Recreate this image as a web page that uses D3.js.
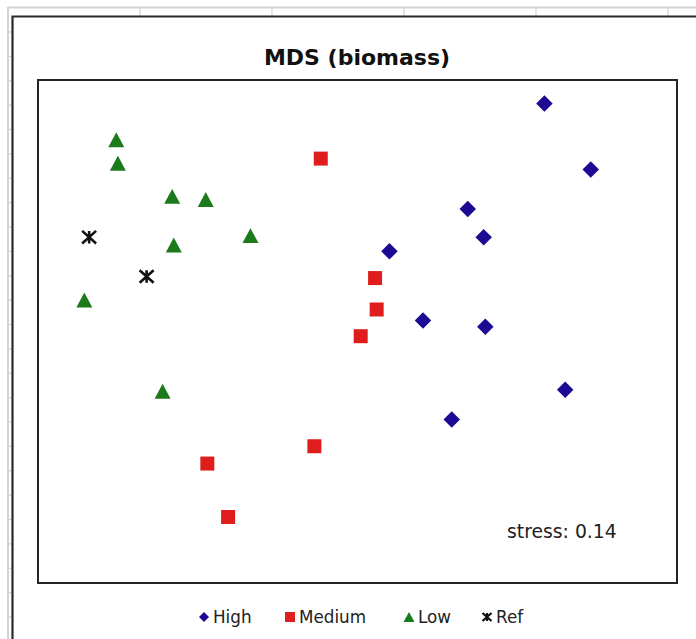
<!DOCTYPE html>
<html>
<head>
<meta charset="utf-8">
<script src="https://cdn.jsdelivr.net/npm/d3@7/dist/d3.min.js"></script>
<style>
  html, body { margin: 0; padding: 0; background: #ffffff; }
  svg { display: block; }
</style>
</head>
<body>
<script>
// MDS ordination coordinates (dimension 1, dimension 2) per group
const highPoints = [[1.17, 1.45], [1.46, 1.03], [0.69, 0.78], [0.79, 0.60], [0.20, 0.51],
                    [0.41, 0.07], [0.80, 0.03], [1.30, -0.37], [0.59, -0.56]];
const mediumPoints = [[-0.23, 1.10], [0.11, 0.34], [0.12, 0.14], [0.02, -0.03],
                      [-0.27, -0.73], [-0.94, -0.84], [-0.81, -1.18]];
const lowPoints = [[-1.51, 1.22], [-1.50, 1.07], [-1.16, 0.86], [-0.95, 0.84],
                   [-0.67, 0.61], [-1.15, 0.55], [-1.71, 0.20], [-1.22, -0.38]];
const refPoints = [[-1.68, 0.60], [-1.32, 0.35]];
const seriesNames = ["High", "Medium", "Low", "Ref"];
const stressValue = 0.14;
const chartTitle = "MDS (biomass)";

const W = 696, H = 639;
const plot = { left: 38, top: 80, right: 677, bottom: 583 };

const svg = d3.select("body").append("svg").attr("width", W).attr("height", H);

// --- worksheet backdrop: gridlines around the embedded chart ---
const grid = svg.append("g").attr("stroke", "#d3d3d3").attr("fill", "none");
grid.append("line").attr("x1", 8).attr("x2", W).attr("y1", 7.5).attr("y2", 7.5).attr("stroke-width", 2);
grid.append("line").attr("x1", 8).attr("x2", 8).attr("y1", 7).attr("y2", H).attr("stroke-width", 2);
d3.range(140, W, 132).forEach(cx => {
  grid.append("line").attr("x1", cx).attr("x2", cx).attr("y1", 8).attr("y2", 16).attr("stroke-width", 1.2);
});
d3.range(32, H, 24.375).forEach(ry => {
  grid.append("line").attr("x1", 8).attr("x2", 12).attr("y1", ry).attr("y2", ry).attr("stroke-width", 1.2);
});

// chart object frame (extends past the window on the right and bottom)
svg.append("path")
  .attr("d", `M12.5,${H + 2} V16.5 H${W + 2}`)
  .attr("fill", "none").attr("stroke", "#2a2a2a").attr("stroke-width", 2.2);

// title
svg.append("text")
  .attr("x", 357).attr("y", 65)
  .attr("text-anchor", "middle")
  .attr("font-family", "'DejaVu Sans', Verdana, sans-serif")
  .attr("font-weight", "bold")
  .attr("font-size", 22)
  .attr("fill", "#111")
  .text(chartTitle);

// plot area
svg.append("rect")
  .attr("x", plot.left).attr("y", plot.top)
  .attr("width", plot.right - plot.left).attr("height", plot.bottom - plot.top)
  .attr("fill", "#fff").attr("stroke", "#252525").attr("stroke-width", 2);

const x = d3.scaleLinear().domain([-2, 2]).range([plot.left, plot.right]);
const y = d3.scaleLinear().domain([-1.6, 1.6]).range([plot.bottom, plot.top]);

// marker shapes, sized by their box width (size = width^2)
const diamond = { draw(ctx, size) { const h = Math.sqrt(size) / 2;
  ctx.moveTo(0, -h); ctx.lineTo(h, 0); ctx.lineTo(0, h); ctx.lineTo(-h, 0); ctx.closePath(); } };
const square = { draw(ctx, size) { const w = Math.sqrt(size); ctx.rect(-w / 2, -w / 2, w, w); } };
const triangle = { draw(ctx, size) { const w = Math.sqrt(size), ht = w * 0.93;
  ctx.moveTo(0, -ht / 2); ctx.lineTo(w / 2, ht / 2); ctx.lineTo(-w / 2, ht / 2); ctx.closePath(); } };
const star = { draw(ctx, size) { const w = Math.sqrt(size), hw = w / 2, hh = w * 0.45;
  ctx.moveTo(0, -hh); ctx.lineTo(0, hh);
  ctx.moveTo(-hw, -hh); ctx.lineTo(hw, hh);
  ctx.moveTo(hw, -hh); ctx.lineTo(-hw, hh); } };

const series = [
  { name: seriesNames[0], data: highPoints, type: diamond, w: 16.5, lw: 10, color: "#1c0a94", filled: true },
  { name: seriesNames[1], data: mediumPoints, type: square, w: 14, lw: 10, color: "#e01d1d", filled: true },
  { name: seriesNames[2], data: lowPoints, type: triangle, w: 16, lw: 11, color: "#1b7b1b", filled: true },
  { name: seriesNames[3], data: refPoints, type: star, w: 14, lw: 9, color: "#111111", filled: false }
];

function styleMarker(sel, s, lineW) {
  if (s.filled) sel.attr("fill", s.color).attr("stroke", "none");
  else sel.attr("fill", "none").attr("stroke", s.color).attr("stroke-width", lineW);
}

series.forEach(s => {
  svg.append("g").selectAll("path")
    .data(s.data)
    .join("path")
    .attr("transform", d => `translate(${x(d[0])},${y(d[1])})`)
    .attr("d", d3.symbol().type(s.type).size(s.w * s.w)())
    .call(sel => styleMarker(sel, s, 2.6));
});

// stress annotation
svg.append("text")
  .attr("x", 507).attr("y", 538)
  .attr("font-family", "'DejaVu Sans', Verdana, sans-serif")
  .attr("font-size", 18.8)
  .attr("fill", "#222")
  .text(`stress: ${stressValue.toFixed(2)}`);

// legend
const legendX = [204, 290, 409, 487];
const legendY = 617;
const legend = svg.append("g");
series.forEach((s, i) => {
  const g = legend.append("g").attr("transform", `translate(${legendX[i]},${legendY})`);
  g.append("path")
    .attr("d", d3.symbol().type(s.type).size(s.lw * s.lw)())
    .call(sel => styleMarker(sel, s, 2.2));
  g.append("text")
    .attr("x", 9).attr("y", 6)
    .attr("font-family", "'DejaVu Sans', Verdana, sans-serif")
    .attr("font-size", 16.8)
    .attr("fill", "#222")
    .text(s.name);
});
</script>
</body>
</html>
